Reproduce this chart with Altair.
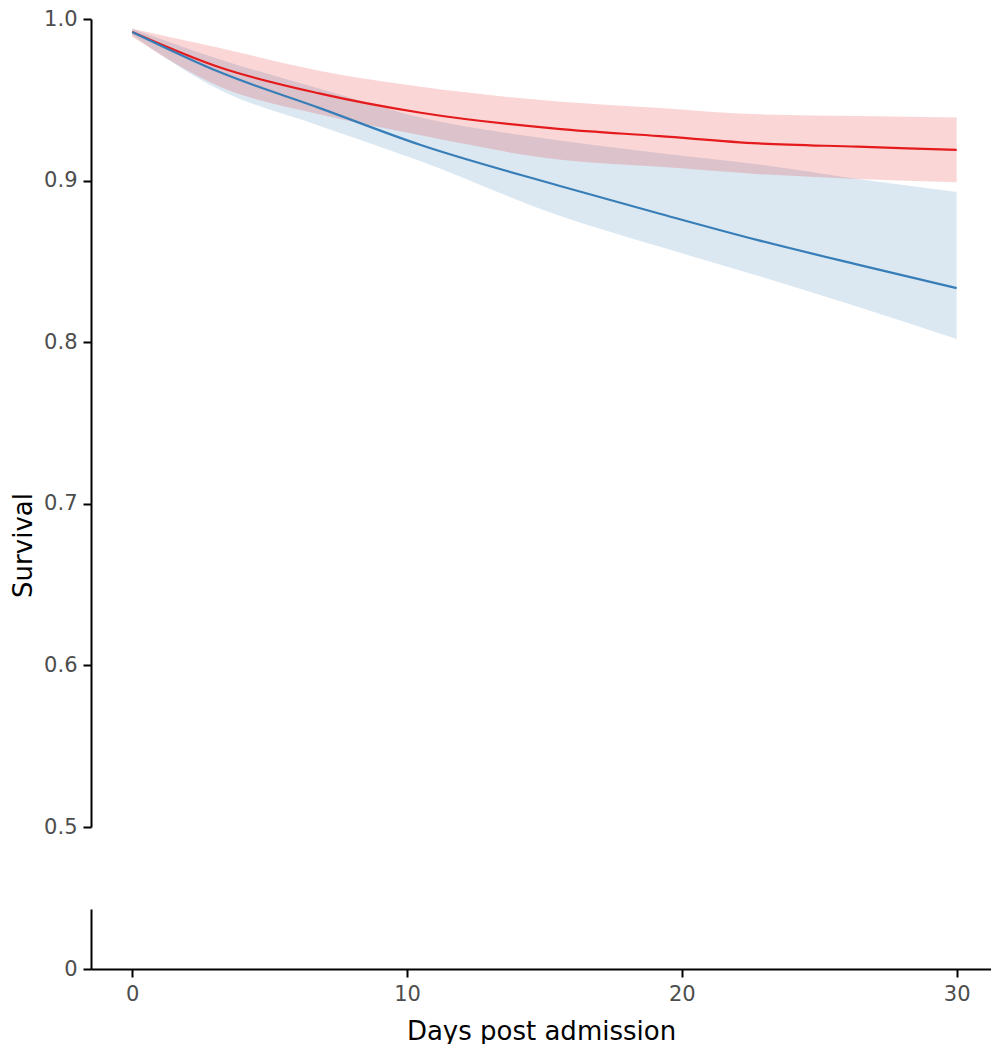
import altair as alt
import pandas as pd

# Values
days = [0, 3.2, 6.8, 10.5, 15.5, 19.2, 22.8, 26.4, 30]
red_est = [0.992, 0.970, 0.954, 0.942, 0.932, 0.9275, 0.923, 0.921, 0.919]
red_hi = [0.994, 0.982, 0.968, 0.958, 0.949, 0.945, 0.941, 0.940, 0.939]
red_lo = [0.989, 0.958, 0.941, 0.928, 0.913, 0.9085, 0.904, 0.901, 0.899]
blue_est = [0.992, 0.967, 0.945, 0.922, 0.897, 0.8795, 0.863, 0.848, 0.8335]
blue_hi = [0.994, 0.975, 0.957, 0.939, 0.925, 0.917, 0.910, 0.901, 0.893]
blue_lo = [0.990, 0.956, 0.934, 0.912, 0.8785, 0.859, 0.841, 0.822, 0.802]

y_ticks_top = [0.5, 0.6, 0.7, 0.8, 0.9, 1.0]
y_ticks_bottom = [0]
x_ticks = [0, 10, 20, 30]

red_df = pd.DataFrame({"day": days, "est": red_est, "lo": red_lo, "hi": red_hi})
blue_df = pd.DataFrame({"day": days, "est": blue_est, "lo": blue_lo, "hi": blue_hi})

RED = "#e41a1c"
BLUE = "#377eb8"

x_scale = alt.Scale(domain=[-1.5, 31.25], nice=False, zero=False)
y_top_scale = alt.Scale(domain=[0.5, 1.0], nice=False, zero=False)

y_top_axis = alt.Axis(values=y_ticks_top, format=".1f", title="Survival", titleY=526,
                      titlePadding=7)


def band(df, color):
    return alt.Chart(df).mark_area(color=color, opacity=0.18, interpolate="monotone").encode(
        x=alt.X("day:Q", scale=x_scale, axis=None),
        y=alt.Y("lo:Q", scale=y_top_scale, axis=y_top_axis),
        y2="hi:Q",
    )


def line(df, color):
    return alt.Chart(df).mark_line(color=color, strokeWidth=2.2, interpolate="monotone").encode(
        x=alt.X("day:Q", scale=x_scale, axis=None),
        y=alt.Y("est:Q", scale=y_top_scale, axis=y_top_axis),
    )


top = alt.layer(
    band(blue_df, BLUE), band(red_df, RED), line(red_df, RED), line(blue_df, BLUE)
).properties(width=900, height=808)

bottom = alt.Chart(red_df).mark_point(opacity=0).transform_calculate(zero="0").encode(
    x=alt.X("day:Q", scale=x_scale,
            axis=alt.Axis(values=x_ticks, format="d", title="Days post admission", titlePadding=14)),
    y=alt.Y("zero:Q", scale=alt.Scale(domain=[0, 0.05], nice=False),
            axis=alt.Axis(values=y_ticks_bottom, format="d", title=None)),
).properties(width=900, height=60)

chart = alt.vconcat(top, bottom, spacing=72).properties(
    padding={"left": 2, "top": 0, "right": 0, "bottom": 0}
).configure_view(stroke=None).configure_axis(
    domainColor="black", domainWidth=2, tickColor="black", tickWidth=2, tickSize=8,
    labelColor="#4d4d4d", labelFont="DejaVu Sans", labelFontSize=21, labelPadding=6,
    titleFont="DejaVu Sans", titleFontSize=26, titleColor="black", titleFontWeight="normal",
    grid=False,
)

chart.save("out.html", embed_options={"renderer": "svg", "actions": False})
